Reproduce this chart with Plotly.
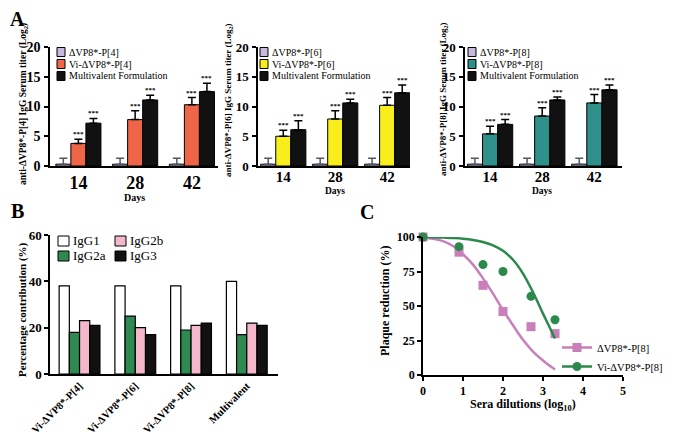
import plotly.graph_objects as go

# the page body keeps an 8px margin and clips at 668px, so positions are offset by 8px
OFF = 8
FW, FH = 676 - 2 * OFF, 445 - OFF
SERIF = 'Liberation Serif, Times New Roman, serif'

# ---- panel A: IgG titers (log2) ----
days = ['14', '28', '42']

dvp8_titer = [0.3, 0.3, 0.3]
dvp8_err = [1.0, 1.0, 1.0]

vi_p4 = [3.8, 7.8, 10.3]
vi_p4_err = [0.7, 1.5, 1.2]
multi_p4 = [7.2, 11.1, 12.5]
multi_p4_err = [0.8, 0.8, 1.4]

vi_p6 = [5.0, 7.9, 10.2]
vi_p6_err = [1.0, 1.4, 1.3]
multi_p6 = [6.1, 10.6, 12.3]
multi_p6_err = [1.5, 0.6, 1.3]

vi_p8 = [5.4, 8.4, 10.6]
vi_p8_err = [1.3, 1.4, 1.4]
multi_p8 = [7.0, 11.1, 12.8]
multi_p8_err = [0.8, 0.5, 0.8]

# ---- panel B: IgG subclasses ----
igg_groups = ['Vi-ΔVP8*-P[4]', 'Vi-ΔVP8*-P[6]', 'Vi-ΔVP8*-P[8]', 'Multivalent']
igg1 = [38, 38, 38, 40]
igg2a = [18, 25, 19, 17]
igg2b = [23, 20, 21, 22]
igg3 = [21, 17, 22, 21]

# ---- panel C: plaque reduction ----
dilutions = [0, 0.9, 1.5, 2.0, 2.7, 3.3]
dvp8_p8_pr = [100, 89, 65, 46, 35, 30]
vi_p8_pr = [100, 93, 80, 75, 57, 40]

fit_x = [0, 0.25, 0.5, 0.75, 1, 1.25, 1.5, 1.75, 2, 2.25, 2.5, 2.75, 3, 3.15, 3.3]
dvp8_p8_fit = [99.5, 98.8, 97, 93.5, 87.5, 80, 70, 59, 47, 36, 25.5, 17, 10.5, 7, 4]
vi_p8_fit = [100, 99.9, 99.6, 99.3, 98.8, 97.9, 96.4, 94, 90, 83.5, 73.5, 60, 44.5, 35.5, 26.5]


def px(x):
    return (x - OFF) / FW


def py(y):
    return 1 - (y - OFF) / FH


def bold(size):
    return dict(family=SERIF, size=size, color='black', weight='bold')


def plain(size):
    return dict(family=SERIF, size=size, color='black')


fig = go.Figure()
notes = []
shapes = []


def add_key(x, y, w, h, fill, label, size):
    # small boxed key with its label, placed in screen px
    shapes.append(dict(type='rect', xref='paper', yref='paper',
                       x0=px(x), x1=px(x + w), y0=py(y + h / 2), y1=py(y - h / 2),
                       fillcolor=fill, line=dict(color='black', width=1)))
    notes.append(dict(text=label, x=px(x + w + 2), y=py(y), xref='paper', yref='paper',
                      xanchor='left', yanchor='middle', showarrow=False, font=plain(size)))


# panel A subplots: (tag, vi, vi_err, multi, multi_err, colour, axis suffix, bar width)
panels_a = [
    ('P[4]', vi_p4, vi_p4_err, multi_p4, multi_p4_err, '#ee6548', '', 0.265),
    ('P[6]', vi_p6, vi_p6_err, multi_p6, multi_p6_err, '#f8ee1c', '2', 0.29),
    ('P[8]', vi_p8, vi_p8_err, multi_p8, multi_p8_err, '#2f8f8a', '3', 0.29),
]
key_left = {'': 57, '2': 260, '3': 468}
key_rows = [52, 64, 76]
xs = [0, 1, 2]

for tag, vi, vi_err, multi, multi_err, col, sfx, w in panels_a:
    series = [
        ('ΔVP8*-' + tag, dvp8_titer, dvp8_err, '#c6badf', '#555566'),
        ('Vi-ΔVP8*-' + tag, vi, vi_err, col, 'black'),
        ('Multivalent Formulation', multi, multi_err, '#111111', 'black'),
    ]
    for i, (name, vals, errs, fc, ec) in enumerate(series):
        off = -1.5 * w + i * w
        fig.add_trace(go.Bar(
            x=xs, y=vals, name=name, width=w, offset=off, showlegend=False,
            marker=dict(color=fc, line=dict(color='black', width=1)),
            error_y=dict(type='data', symmetric=False, array=errs,
                         arrayminus=[0] * 3, color=ec, thickness=1.5, width=4),
            xaxis='x' + sfx, yaxis='y' + sfx))
        if i > 0:
            for j, (m, e) in enumerate(zip(vals, errs)):
                notes.append(dict(x=j + off + w / 2, y=m + e, xref='x' + sfx,
                                  yref='y' + sfx, text='***', showarrow=False,
                                  yshift=5, font=bold(7)))
        add_key(key_left[sfx], key_rows[i], 8, 9, fc, name, 10)

# panel B
igg_x = [0, 1, 2, 3]
wb = 0.183
igg_keys = [(58, 241), (58, 256), (115, 241), (115, 256)]
for i, (name, vals, fc) in enumerate([('IgG1', igg1, 'white'),
                                      ('IgG2a', igg2a, '#2f8a52'),
                                      ('IgG2b', igg2b, '#f5b8cb'),
                                      ('IgG3', igg3, '#111111')]):
    fig.add_trace(go.Bar(
        x=igg_x, y=vals, name=name, width=wb, offset=-2 * wb + i * wb, showlegend=False,
        marker=dict(color=fc, line=dict(color='black', width=1.2)),
        xaxis='x4', yaxis='y4'))
    add_key(igg_keys[i][0], igg_keys[i][1], 11, 10, fc, name, 13)

# panel C
pink, green = '#c97fba', '#2b8a4b'
for name, pts, fit, col, sym in [('ΔVP8*-P[8]', dvp8_p8_pr, dvp8_p8_fit, pink, 'square'),
                                 ('Vi-ΔVP8*-P[8]', vi_p8_pr, vi_p8_fit, green, 'circle')]:
    fig.add_trace(go.Scatter(x=fit_x, y=fit, mode='lines', line=dict(color=col, width=2.5, shape='spline'),
                             showlegend=False, xaxis='x5', yaxis='y5'))
    fig.add_trace(go.Scatter(x=dilutions, y=pts, mode='markers', marker=dict(color=col, symbol=sym, size=9),
                             showlegend=False, xaxis='x5', yaxis='y5', cliponaxis=False))
    fig.add_trace(go.Scatter(x=[None], y=[None], mode='lines+markers', name=name,
                             line=dict(color=col, width=2.5), marker=dict(color=col, symbol=sym, size=9),
                             xaxis='x5', yaxis='y5', legend='legend'))

axis_base = dict(showline=True, linecolor='black', linewidth=1.5, showgrid=False, automargin=False,
                 zeroline=False, tickcolor='black', tickwidth=1.5, ticklen=4)

layout = dict(
    width=FW, height=FH, margin=dict(l=0, r=0, t=0, b=0, autoexpand=False),
    paper_bgcolor='white', plot_bgcolor='white', showlegend=True,
    font=plain(11),
)

# A axes: (left, right, x range, x tick size, y tick size, x label standoff)
a_dom = [(50, 218, [-0.5, 2.46], 18, 14, 0), (258, 410, [-0.487, 2.44], 15, 13, -4),
         (465, 622, [-0.48, 2.53], 15, 13, -4)]
for (x0, x1, rng, xfs, yfs, sto), (_, _, _, _, _, _, sfx, _) in zip(a_dom, panels_a):
    layout['xaxis' + sfx] = dict(axis_base, domain=[px(x0), px(x1)], range=rng, ticks='',
                                 tickvals=xs, ticktext=days, tickfont=bold(xfs),
                                 anchor='y' + sfx, ticklabelstandoff=sto)
    layout['yaxis' + sfx] = dict(axis_base, domain=[py(166), py(47)], range=[0, 20],
                                 tickvals=[0, 5, 10, 15, 20], ticks='outside', tickfont=bold(yfs),
                                 anchor='x' + sfx, ticklabelstandoff=1)

# B axes
layout['xaxis4'] = dict(axis_base, domain=[px(50), px(278)], range=[-0.53, 3.56], ticks='',
                        tickvals=igg_x, ticktext=igg_groups, tickangle=-45, tickfont=bold(10.5),
                        anchor='y4')
layout['yaxis4'] = dict(axis_base, domain=[py(374), py(235)], range=[0, 60],
                        tickvals=[0, 20, 40, 60], ticks='outside', tickfont=bold(13), anchor='x4')

# C axes
layout['xaxis5'] = dict(axis_base, domain=[px(423), px(623)], range=[0, 5], ticks='outside',
                        tickvals=[0, 1, 2, 3, 4, 5], tickfont=bold(12), anchor='y5')
layout['yaxis5'] = dict(axis_base, domain=[py(375), py(237)], range=[0, 100], ticks='outside',
                        tickvals=[0, 25, 50, 75, 100], tickfont=bold(12), anchor='x5')
layout['legend'] = dict(x=1, y=py(333), xanchor='right', yanchor='top', font=plain(10.5),
                        bgcolor='rgba(0,0,0,0)')

# titles and panel letters
titles = [
    ('anti-ΔVP8*-P[4] IgG Serum titer (Log<sub>2</sub>)', 24, 104, -90, 9.5),
    ('anti-ΔVP8*-P[6] IgG Serum titer (Log<sub>2</sub>)', 228, 100, -90, 9),
    ('anti-ΔVP8*-P[8] IgG Serum titer (Log<sub>2</sub>)', 443, 99, -90, 9),
    ('Days', 134, 198, 0, 10),
    ('Days', 335, 191, 0, 9.5),
    ('Days', 542, 191, 0, 9.5),
    ('Percentage contribution (%)', 22, 310, -90, 11),
    ('Plaque reduction (%)', 385, 301, -90, 12),
    ('Sera dilutions (log<sub>10</sub>)', 523, 405, 0, 12),
    ('A', 17, 19, 0, 20),
    ('B', 17, 211, 0, 20),
    ('C', 367, 212, 0, 20),
]
for text, x, y, ang, fs in titles:
    notes.append(dict(text=text, x=px(x), y=py(y), xref='paper', yref='paper',
                      showarrow=False, textangle=ang, font=bold(fs),
                      xanchor='center', yanchor='middle'))

layout['annotations'] = notes
layout['shapes'] = shapes
fig.update_layout(**layout)

fig.write_html('out.html')
